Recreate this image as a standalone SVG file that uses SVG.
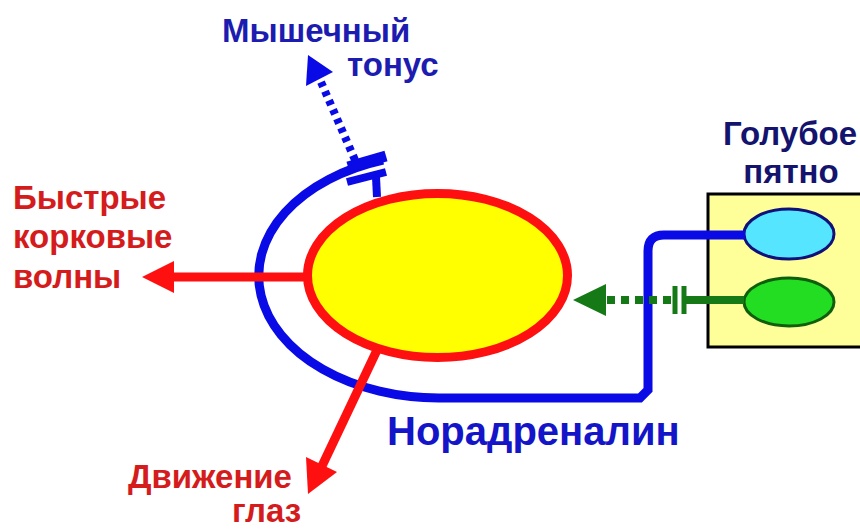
<svg xmlns="http://www.w3.org/2000/svg" width="860" height="531" viewBox="0 0 860 531">
<defs>
<style>
.t{font-family:"Liberation Sans",Arial,sans-serif;font-weight:bold;font-size:33px}
.red{fill:#d41c1c}
.blue{fill:#1c1cb0}
.navy{fill:#14146e}
.rl{stroke:#ff1010;stroke-width:9;fill:none}
.bl{stroke:#0a0ae6;stroke-width:9;fill:none}
.gl{stroke:#157a15;stroke-width:8;fill:none}
</style>
</defs>
<rect width="860" height="531" fill="#ffffff"/>
<g id="locus">
<rect x="708" y="194" width="170" height="153" fill="#ffff99" stroke="#000" stroke-width="3"/>
<ellipse cx="789" cy="234" rx="45" ry="25" fill="#55e5ff" stroke="#10107a" stroke-width="3"/>
<ellipse cx="789" cy="302" rx="45" ry="24" fill="#22dd22" stroke="#0e5e0e" stroke-width="3"/>
<text class="t navy" x="790" y="145" text-anchor="middle">Голубое</text>
<text class="t navy" x="791" y="183" text-anchor="middle">пятно</text>
</g>
<g id="connectors">
<path class="bl" d="M383,160 A180,122 0 0 0 440,398 L640,398 L648,390 L648,251 Q648,235 664,235 L745,235"/>
<line x1="348" y1="167" x2="386" y2="156" stroke="#0a0ae6" stroke-width="11"/>
<line x1="347" y1="182" x2="386" y2="172" stroke="#0a0ae6" stroke-width="8"/>
<line x1="376" y1="177" x2="377" y2="197" stroke="#0a0ae6" stroke-width="8"/>
<line x1="355" y1="160" x2="321" y2="82" stroke="#0a0ae6" stroke-width="8" stroke-dasharray="5 5"/>
<polygon points="308,55 306,86 333,72" fill="#0a0ae6"/>
<line class="rl" x1="308" y1="277" x2="168" y2="277"/>
<polygon points="142,277 174,261 174,293" fill="#ff1010"/>
<line class="rl" x1="378" y1="348" x2="322" y2="466"/>
<polygon points="308,494 306,457 337,472" fill="#ff1010"/>
<line class="gl" x1="744" y1="300" x2="686" y2="300"/>
<line x1="684" y1="286" x2="684" y2="314" stroke="#157a15" stroke-width="5"/>
<line x1="675" y1="286" x2="675" y2="314" stroke="#157a15" stroke-width="5"/>
<line class="gl" x1="671" y1="300" x2="603" y2="300" stroke-dasharray="8 6"/>
<polygon points="573,300 606,284 606,316" fill="#157a15"/>
</g>
<g id="nucleus">
<ellipse cx="437.5" cy="275.5" rx="130" ry="82" fill="#ffff00" stroke="#ff1010" stroke-width="9"/>
</g>
<g id="labels">
<text class="t blue" x="222" y="42">Мышечный</text>
<text class="t blue" x="347" y="76">тонус</text>
<text class="t red" x="13" y="209">Быстрые</text>
<text class="t red" x="13" y="248">корковые</text>
<text class="t red" x="13" y="288">волны</text>
<text class="t" x="387" y="445" style="font-size:40px" fill="#1414c8">Норадреналин</text>
<text class="t red" x="128" y="488">Движение</text>
<text class="t red" x="232" y="522">глаз</text>
</g>
</svg>
